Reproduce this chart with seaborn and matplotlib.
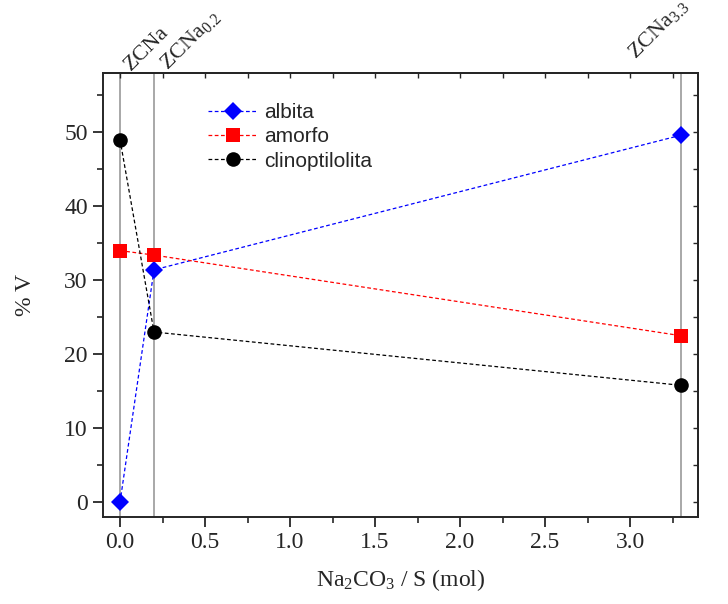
import matplotlib
matplotlib.use("Agg")
import matplotlib.pyplot as plt
import seaborn as sns
import pandas as pd
from matplotlib.ticker import MultipleLocator

x_vals = [0.0, 0.2, 3.3]
albita = [0.0, 31.4, 49.6]
amorfo = [34.0, 33.4, 22.5]
clino = [49.0, 23.0, 15.8]
sample_labels = ["ZCNa", "ZCNa$_{0.2}$", "ZCNa$_{3.3}$"]

df = pd.DataFrame({
    "x": x_vals * 3,
    "y": albita + amorfo + clino,
    "fase": ["albita"] * 3 + ["amorfo"] * 3 + ["clinoptilolita"] * 3,
})

sns.set_style("ticks")
plt.rcParams["font.family"] = ["Liberation Serif", "DejaVu Serif"]
plt.rcParams["mathtext.fontset"] = "custom"
plt.rcParams["mathtext.rm"] = "Liberation Serif"
plt.rcParams["mathtext.it"] = "Liberation Serif"
plt.rcParams["mathtext.default"] = "rm"

fig = plt.figure(figsize=(7.28, 6.04), dpi=100)
ax = fig.add_axes([0.1415, 0.144, 0.8173, 0.7351])

for xv in x_vals:
    ax.axvline(xv, color="#999999", lw=1.2, zorder=0)

styles = {
    "albita": dict(color="#0000ff", marker="D", ms=9.5),
    "amorfo": dict(color="#ff0000", marker="s", ms=9.5),
    "clinoptilolita": dict(color="#000000", marker="o", ms=10.5),
}
for name, st in styles.items():
    sub = df[df["fase"] == name]
    sns.lineplot(data=sub, x="x", y="y", ax=ax, color=st["color"], lw=0.9,
                 linestyle=(0, (3, 2)), marker=st["marker"], markersize=st["ms"],
                 markeredgewidth=0, label=name, sort=False)

ax.set_xlim(-0.1, 3.4)
ax.set_ylim(-2, 58)
ax.xaxis.set_major_locator(MultipleLocator(0.5))
ax.xaxis.set_minor_locator(MultipleLocator(0.25))
ax.yaxis.set_major_locator(MultipleLocator(10))
ax.yaxis.set_minor_locator(MultipleLocator(5))
ax.tick_params(which="major", direction="out", length=7, width=1.3, labelsize=17, pad=4)
ax.tick_params(which="minor", direction="out", length=4, width=1.2)
for s in ax.spines.values():
    s.set_linewidth(1.4)

# inward ticks on top and right
sx = ax.secondary_xaxis("top")
sx.xaxis.set_major_locator(MultipleLocator(0.5))
sx.xaxis.set_minor_locator(MultipleLocator(0.25))
sx.tick_params(which="both", direction="in", length=3.5, width=1.0, labeltop=False)
sx.spines["top"].set_linewidth(1.4)
sy = ax.secondary_yaxis("right")
sy.yaxis.set_major_locator(MultipleLocator(10))
sy.yaxis.set_minor_locator(MultipleLocator(5))
sy.tick_params(which="both", direction="in", length=3.5, width=1.0, labelright=False)
sy.spines["right"].set_linewidth(1.4)

ax.set_xlabel("Na$_2$CO$_3$ / S (mol)", fontsize=17, labelpad=10)
ax.set_ylabel("% V", fontsize=17, labelpad=20)

label_offsets = [(8, 1.5), (10, 1.5), (-33, 10)]
for xv, lab, off in zip(x_vals, sample_labels, label_offsets):
    ax.annotate(lab, xy=(xv, 1.0), xycoords=("data", "axes fraction"),
                xytext=off, textcoords="offset points", rotation=45,
                ha="left", va="baseline", fontsize=16, rotation_mode="anchor",
                annotation_clip=False)

leg = ax.legend(loc="upper left", bbox_to_anchor=(0.176, 0.932), frameon=False,
                prop={"family": "Liberation Sans", "size": 15},
                handlelength=2.4, handletextpad=0.3, labelspacing=0.25,
                borderaxespad=0, borderpad=0)

fig.savefig("out.png", dpi=100)
